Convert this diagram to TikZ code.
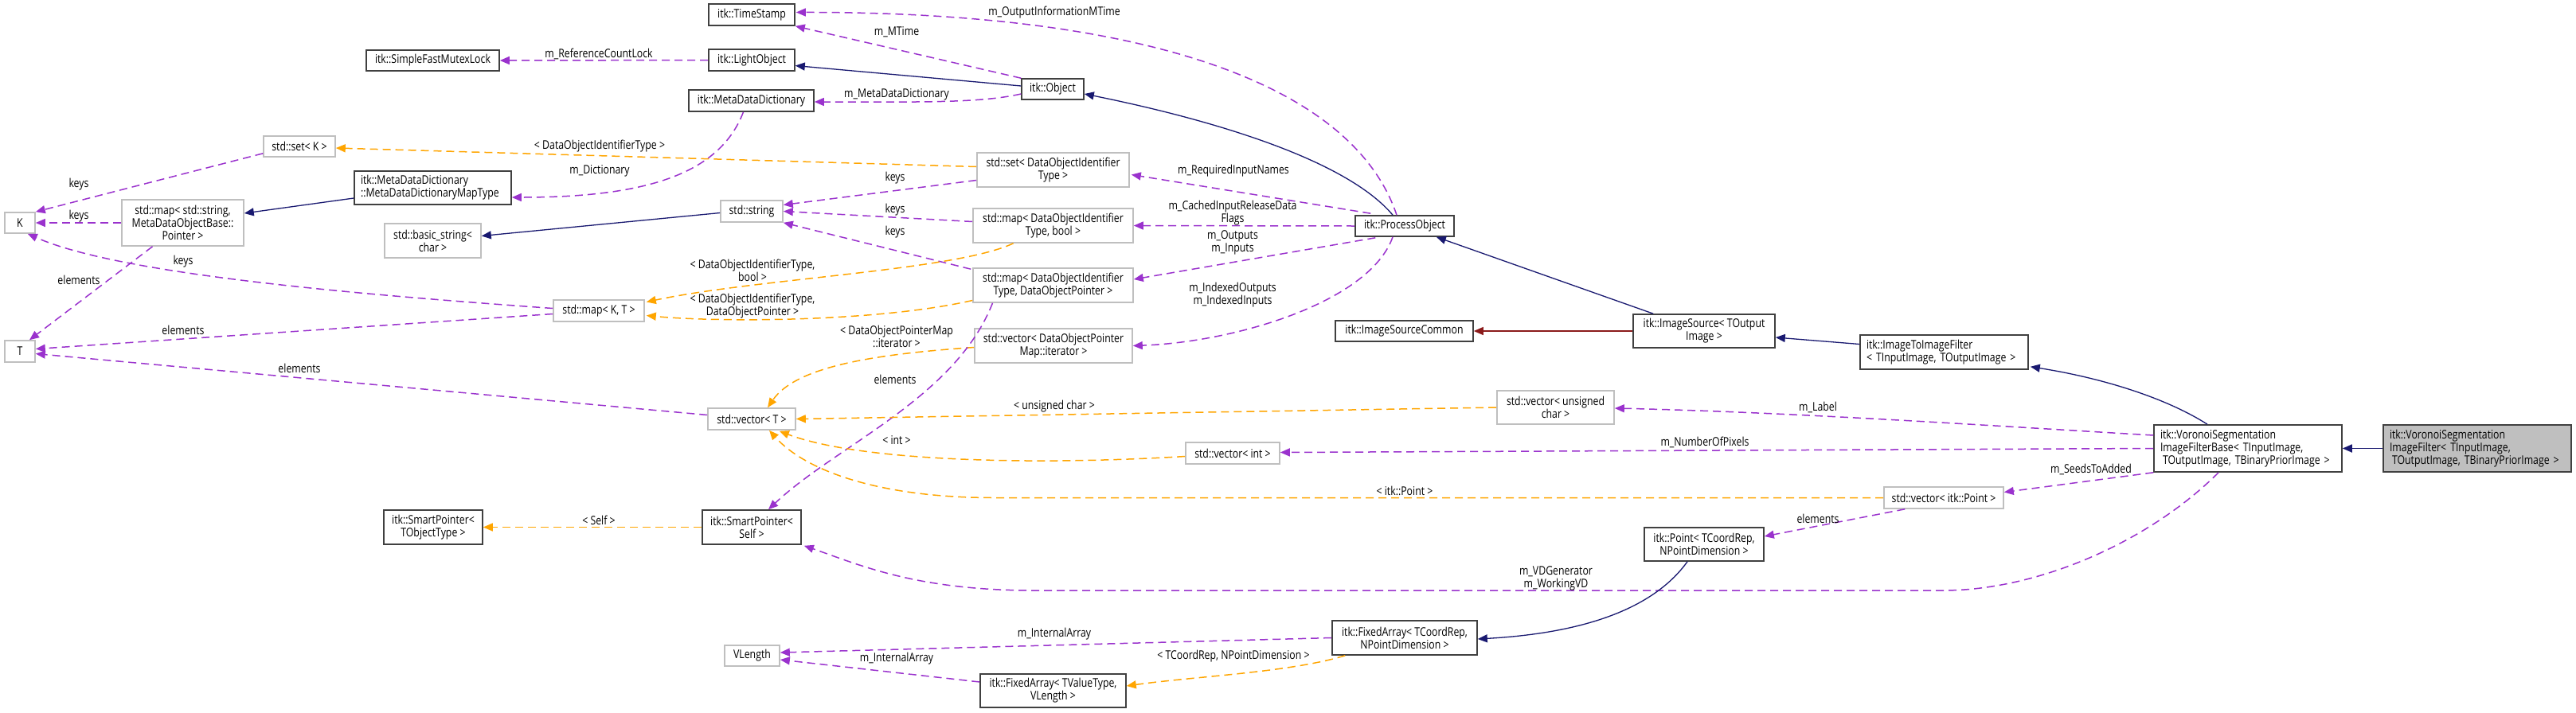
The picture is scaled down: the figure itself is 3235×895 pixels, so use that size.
\documentclass[tikz,border=0pt]{standalone}
\usepackage{fontspec}
\newfontfamily\doxfont[FakeStretch=0.82]{Open Sans}
\usetikzlibrary{arrows.meta,calc}
\definecolor{dpurple}{HTML}{9A32CD}
\definecolor{dorange}{HTML}{FFA500}
\definecolor{dblue}{HTML}{191970}
\definecolor{dred}{HTML}{8B1A1A}
\definecolor{lgray}{HTML}{BFBFBF}
\tikzset{
 txt/.style={font=\doxfont\fontsize{15}{16}\selectfont},
 bb/.style={txt, draw=black!75, line width=1.6pt, inner sep=0pt, align=center, fill=white},
 gb/.style={bb, draw=lgray},
 wh/.style 2 args={minimum width=#1pt, minimum height=#2pt},
 lab/.style={txt, inner sep=0pt, align=center},
 tip/.style={-{Triangle[length=12pt,width=10pt]}},
 pe/.style={tip, draw=dpurple, line width=1.5pt, dash pattern=on 10pt off 6pt},
 oe/.style={pe, draw=dorange},
 be/.style={tip, draw=dblue, line width=1.3pt},
 re/.style={be, draw=dred},
}
\begin{document}
\begin{tikzpicture}[x=1pt,y=-1pt]
\useasboundingbox (0,0) rectangle (3235,895);
% nodes
\node[bb, wh={108}{27}] (timestamp) at (944,18.5) {itk::TimeStamp};
\node[bb, wh={167}{26}] (mutex) at (543.5,76) {itk::SimpleFastMutexLock};
\node[bb, wh={108}{27}] (lightobj) at (944,75.5) {itk::LightObject};
\node[bb, wh={157}{27}] (mdd) at (943.5,126.5) {itk::MetaDataDictionary};
\node[bb, wh={78}{26}] (object) at (1322,112) {itk::Object};
\node[gb, wh={90}{26}] (setK) at (376,184) {std::set< K >};
\node[bb, wh={197}{42}, text width=181pt, align=left] (maptype) at (543.5,236) {itk::MetaDataDictionary\\::MetaDataDictionaryMapType};
\node[gb, wh={191}{43}] (setDOI) at (1322.5,213.5) {std::set< DataObjectIdentifier\\Type >};
\node[gb, wh={38}{26}] (K) at (25,280) {K};
\node[gb, wh={153}{58}] (mapStr) at (229.5,280) {std::map< std::string,\\MetaDataObjectBase::\\Pointer >};
\node[gb, wh={78}{27}] (string) at (944,265.5) {std::string};
\node[gb, wh={121}{43}] (basicstr) at (543.5,302.5) {std::basic\_string<\\char >};
\node[gb, wh={201}{43}] (mapDOIbool) at (1322.5,283.5) {std::map< DataObjectIdentifier\\Type, bool >};
\node[bb, wh={124}{26}] (process) at (1764,284) {itk::ProcessObject};
\node[gb, wh={114}{27}] (mapKT) at (752,390.5) {std::map< K, T >};
\node[gb, wh={201}{43}] (mapDOIptr) at (1322.5,358.5) {std::map< DataObjectIdentifier\\Type, DataObjectPointer >};
\node[bb, wh={173}{26}] (isc) at (1763.5,416) {itk::ImageSourceCommon};
\node[bb, wh={178}{42}] (isrc) at (2140,416) {itk::ImageSource< TOutput\\Image >};
\node[gb, wh={38}{27}] (T) at (25,441.5) {T};
\node[gb, wh={198}{43}] (vecDOI) at (1323,434.5) {std::vector< DataObjectPointer\\Map::iterator >};
\node[bb, wh={211}{43}, text width=195pt, align=left] (i2i) at (2441.5,442.5) {itk::ImageToImageFilter\\< TInputImage, TOutputImage >};
\node[gb, wh={110}{27}] (vecT) at (944,526.5) {std::vector< T >};
\node[gb, wh={147}{42}] (vecUC) at (1953.5,512) {std::vector< unsigned\\char >};
\node[gb, wh={118}{27}] (vecInt) at (1548,569.5) {std::vector< int >};
\node[bb, wh={236}{59}, text width=220pt, align=left] (base) at (2823,563.5) {itk::VoronoiSegmentation\\ImageFilterBase< TInputImage,\\\hspace*{3pt}TOutputImage, TBinaryPriorImage >};
\node[bb, fill=lgray, wh={236}{59}, text width=220pt, align=left] (filter) at (3111,563.5) {itk::VoronoiSegmentation\\ImageFilter< TInputImage,\\\hspace*{3pt}TOutputImage, TBinaryPriorImage >};
\node[gb, wh={150}{27}] (vecPt) at (2441,625.5) {std::vector< itk::Point >};
\node[bb, wh={124}{43}] (spTO) at (544,662.5) {itk::SmartPointer<\\TObjectType >};
\node[bb, wh={124}{43}] (spSelf) at (944,662.5) {itk::SmartPointer<\\Self >};
\node[bb, wh={150}{42}] (point) at (2140,684) {itk::Point< TCoordRep,\\NPointDimension >};
\node[bb, wh={182}{43}] (faCoord) at (1764,801.5) {itk::FixedArray< TCoordRep,\\NPointDimension >};
\node[gb, wh={69}{26}] (vlength) at (944.5,824) {VLength};
\node[bb, wh={183}{42}] (faVal) at (1322.5,868) {itk::FixedArray< TValueType,\\VLength >};
% edges
\draw[pe] (object.north west) -- (timestamp.south east);
\draw[pe] ($(process.north)+(-10,0)$) .. controls (1700,110) and (1450,15) .. ($(timestamp.east)+(1,-3)$);
\draw[be] ($(process.north)+(-15,0)$) .. controls (1690,200) and (1520,150) .. ($(object.east)+(0,6)$);
\draw[pe] (lightobj.west) -- (mutex.east);
\draw[be] ($(object.west)+(0,-4)$) -- ($(lightobj.east)+(0,7)$);
\draw[pe] ($(object.west)+(0,6)$) .. controls (1230,130) and (1150,128) .. ($(mdd.east)+(0,1.5)$);
\draw[pe] ($(mdd.south)+(-10,0)$) .. controls (905,215) and (820,248) .. ($(maptype.east)+(0,12)$);
\draw[oe] ($(setDOI.west)+(0,-4)$) -- ($(setK.east)+(0,2)$);
\draw[pe] ($(setK.south west)+(0,-5)$) -- (K.north east);
\draw[pe] (mapStr.west) -- (K.east);
\draw[pe] ($(mapKT.west)+(0,-3)$) .. controls (450,370) and (150,345) .. ($(K.south east)+(-10,0)$);
\draw[pe] ($(mapStr.south)+(-38,0)$) -- ($(T.north)+(12,0)$);
\draw[pe] ($(mapKT.west)+(0,4)$) -- ($(T.east)+(0,-3)$);
\draw[pe] ($(vecT.west)+(0,-5)$) -- ($(T.east)+(0,3)$);
\draw[be] ($(maptype.west)+(0,13)$) -- ($(mapStr.east)+(0,-12)$);
\draw[be] ($(string.west)+(0,2)$) -- ($(basicstr.east)+(0,-6)$);
\draw[pe] ($(setDOI.west)+(0,13)$) -- ($(string.east)+(0,-8)$);
\draw[pe] ($(mapDOIbool.west)+(0,-5)$) -- (string.east);
\draw[pe] ($(mapDOIptr.north west)+(-2,2)$) -- (string.south east);
\draw[oe] ($(mapDOIbool.south)+(-50,0)$) .. controls (1200,340) and (950,350) .. ($(mapKT.east)+(2,-11)$);
\draw[oe] ($(mapDOIptr.west)+(0,19)$) .. controls (1100,405) and (900,405) .. ($(mapKT.east)+(2,6)$);
\draw[pe] ($(process.north west)+(20,-2)$) -- ($(setDOI.east)+(2,6)$);
\draw[pe] (process.west) -- (mapDOIbool.east);
\draw[pe] ($(process.south west)+(26,1)$) -- ($(mapDOIptr.east)+(0,-7.5)$);
\draw[pe] ($(process.south)+(-15,0)$) .. controls (1720,380) and (1550,430) .. (vecDOI.east);
\draw[oe] ($(vecDOI.west)+(0,2)$) .. controls (1100,445) and (1000,460) .. ($(vecT.north)+(20,0)$);
\draw[pe] ($(mapDOIptr.south)+(-76,0)$) .. controls (1200,500) and (1050,560) .. ($(spSelf.north)+(21,0)$);
\draw[oe] (vecUC.west) -- (vecT.east);
\draw[oe] ($(vecInt.west)+(0,4)$) .. controls (1300,585) and (1080,580) .. ($(vecT.south east)+(-21,1)$);
\draw[oe] (vecPt.west) -- ($(vecPt.west)+(-1116,0)$) .. controls (1100,625.5) and (1010,590) .. ($(vecT.south)+(22,0)$);
\draw[pe] ($(base.west)+(0,-16.5)$) .. controls (2500,535) and (2250,518) .. ($(vecUC.east)+(0,1)$);
\draw[pe] (base.west) -- ($(vecInt.east)+(0,-1)$);
\draw[pe] (base.south west) -- ($(vecPt.east)+(0,-7)$);
\draw[pe] ($(vecPt.south west)+(27,0)$) -- ($(point.east)+(0,-10)$);
\draw[pe] ($(base.south)+(-37,0)$) .. controls (2700,680) and (2560,742) .. (2440,742) -- (1300,742) .. controls (1150,742) and (1080,710) .. ($(spSelf.south east)+(3,1)$);
\draw[be] ($(i2i.west)+(0,-10)$) -- ($(isrc.east)+(0,8)$);
\draw[be] ($(isrc.north west)+(26,0)$) -- ($(process.south east)+(-23,0)$);
\draw[re] (isrc.west) -- (isc.east);
\draw[be] ($(base.north)+(-51,0)$) .. controls (2720,500) and (2640,475) .. ($(i2i.south east)+(2,-4)$);
\draw[be, line width=1.8pt] (filter.west) -- (base.east);
\draw[be] ($(point.south)+(-21,0)$) .. controls (2080,760) and (2000,795) .. ($(faCoord.east)+(0,1.5)$);
\draw[pe] (faCoord.west) -- ($(vlength.east)+(0,-4)$);
\draw[pe] ($(faVal.west)+(0,-11)$) -- ($(vlength.east)+(0,5)$);
\draw[oe] ($(faCoord.south west)+(17,0)$) .. controls (1620,845) and (1500,850) .. ($(faVal.east)+(0,-6)$);
\draw[oe] (spSelf.west) -- (spTO.east);
% labels
\node[lab] (l01) at (1126,40) {m\_MTime};
\node[lab] (l02) at (1324,16) {m\_OutputInformationMTime};
\node[lab] (l03) at (752,68) {m\_ReferenceCountLock};
\node[lab] (l04) at (1126,119) {m\_MetaDataDictionary};
\node[lab] (l05) at (753,215) {m\_Dictionary};
\node[lab] (l06) at (753,184) {< DataObjectIdentifierType >};
\node[lab] (l07) at (99,232) {keys};
\node[lab] (l08) at (99,272) {keys};
\node[lab] (l09) at (230,329) {keys};
\node[lab] (l10) at (99,352) {elements};
\node[lab] (l11) at (230,415) {elements};
\node[lab] (l12) at (376,463) {elements};
\node[lab] (l13) at (1549,215) {m\_RequiredInputNames};
\node[lab] (l14) at (1124,224) {keys};
\node[lab] (l15) at (1124,264) {keys};
\node[lab] (l16) at (1124,292) {keys};
\node[lab] (l17) at (1548,268) {m\_CachedInputReleaseData\\Flags};
\node[lab] (l18) at (1548,305) {m\_Outputs\\m\_Inputs};
\node[lab] (l19) at (945,340) {< DataObjectIdentifierType,\\bool >};
\node[lab] (l20) at (945,385) {< DataObjectIdentifierType,\\DataObjectPointer >};
\node[lab] (l21) at (1548,371) {m\_IndexedOutputs\\m\_IndexedInputs};
\node[lab] (l22) at (1126,423) {< DataObjectPointerMap\\::iterator >};
\node[lab] (l23) at (1124,477) {elements};
\node[lab] (l24) at (1324,511) {< unsigned char >};
\node[lab] (l25) at (1126,553) {< int >};
\node[lab] (l26) at (1764,617) {< itk::Point >};
\node[lab] (l27) at (752,654) {< Self >};
\node[lab] (l28) at (1324,797) {m\_InternalArray};
\node[lab] (l29) at (1126,828) {m\_InternalArray};
\node[lab] (l30) at (1549,825) {< TCoordRep, NPointDimension >};
\node[lab] (l31) at (2283,512) {m\_Label};
\node[lab] (l32) at (2141,556) {m\_NumberOfPixels};
\node[lab] (l33) at (2626,590) {m\_SeedsToAdded};
\node[lab] (l34) at (2283,652) {elements};
\node[lab] (l35) at (1954,727) {m\_VDGenerator\\m\_WorkingVD};
\end{tikzpicture}
\end{document}
